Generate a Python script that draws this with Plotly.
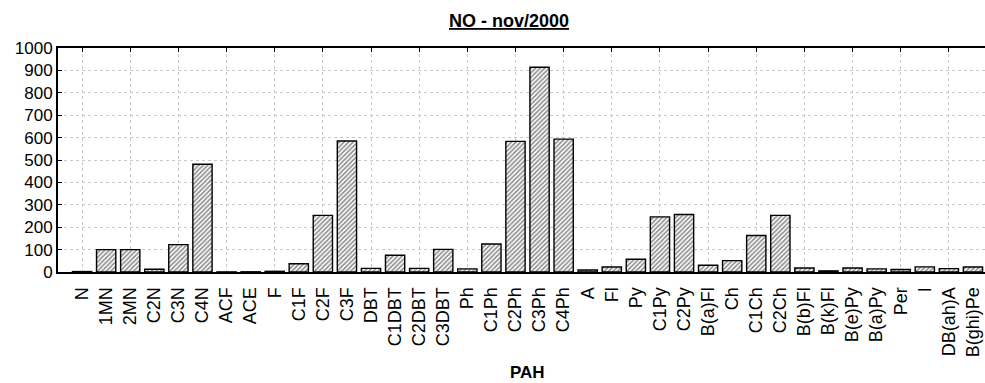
import plotly.graph_objects as go

# PAH concentrations, NO station, November 2000
categories = ["N", "1MN", "2MN", "C2N", "C3N", "C4N", "ACF", "ACE", "F", "C1F",
              "C2F", "C3F", "DBT", "C1DBT", "C2DBT", "C3DBT", "Ph", "C1Ph", "C2Ph",
              "C3Ph", "C4Ph", "A", "Fl", "Py", "C1Py", "C2Py", "B(a)Fl", "Ch",
              "C1Ch", "C2Ch", "B(b)Fl", "B(k)Fl", "B(e)Py", "B(a)Py", "Per", "I",
              "DB(ah)A", "B(ghi)Pe"]
values = [2, 100, 100, 12, 122, 481, 0.5, 1, 3, 37,
          253, 585, 16, 75, 16, 101, 14, 125, 583,
          914, 593, 9, 22, 57, 246, 257, 30, 51,
          163, 253, 18, 5, 18, 14, 11, 23,
          15, 22]
y_ticks = [0, 100, 200, 300, 400, 500, 600, 700, 800, 900, 1000]

positions = list(range(len(categories)))
font_family = "Liberation Sans, Arial, sans-serif"

fig = go.Figure()
fig.add_trace(go.Bar(
    x=positions, y=values, width=0.8,
    marker=dict(color="white",
                line=dict(color="black", width=1.4),
                pattern=dict(shape="/", fgcolor="#1a1a1a", bgcolor="white",
                             size=3.2, solidity=0.5)),
    showlegend=False,
))
# invisible helper trace so the grid/tick axis is drawn
fig.add_trace(go.Scatter(x=[positions[0]], y=[0], xaxis="x2", mode="markers",
                         marker=dict(opacity=0), showlegend=False, hoverinfo="skip"))

x_range = [-1, len(categories) - 0.5]
fig.update_layout(
    width=985, height=383,
    margin=dict(l=58, r=0, t=48, b=111),
    paper_bgcolor="white", plot_bgcolor="white",
    font=dict(family=font_family, size=17, color="black"),
    bargap=0.2,
    xaxis=dict(range=x_range, tickmode="array", tickvals=positions,
               ticktext=categories, tickangle=-90, ticks="", showgrid=False,
               zeroline=False, showline=True, linecolor="black", linewidth=2,
               mirror=False, tickfont=dict(size=18), ticklabelstandoff=6,
               fixedrange=True),
    xaxis2=dict(range=x_range, overlaying="x", side="top", tickmode="linear",
                tick0=0, dtick=2, ticks="inside", ticklen=4, tickcolor="black",
                showticklabels=False, showgrid=True, gridcolor="#c8c8c8",
                griddash="dot", gridwidth=1, zeroline=False, showline=True,
                linecolor="black", linewidth=2),
    yaxis=dict(range=[0, 1000], tickmode="array", tickvals=y_ticks,
               ticks="inside", ticklen=4, tickcolor="black",
               showgrid=True, gridcolor="#c8c8c8", griddash="dot", gridwidth=1,
               zeroline=False, showline=True, linecolor="black", linewidth=2,
               tickfont=dict(size=17)),
    annotations=[
        dict(text="<b><u>NO - nov/2000</u></b>", x=0.487, y=1.0, xref="paper",
             yref="paper", yanchor="middle", yshift=27, showarrow=False,
             font=dict(size=18)),
        dict(text="<b>PAH</b>", x=0.506, y=0, xref="paper", yref="paper",
             yanchor="middle", yshift=-100, showarrow=False, font=dict(size=17)),
    ],
)

fig.write_html("out.html")
